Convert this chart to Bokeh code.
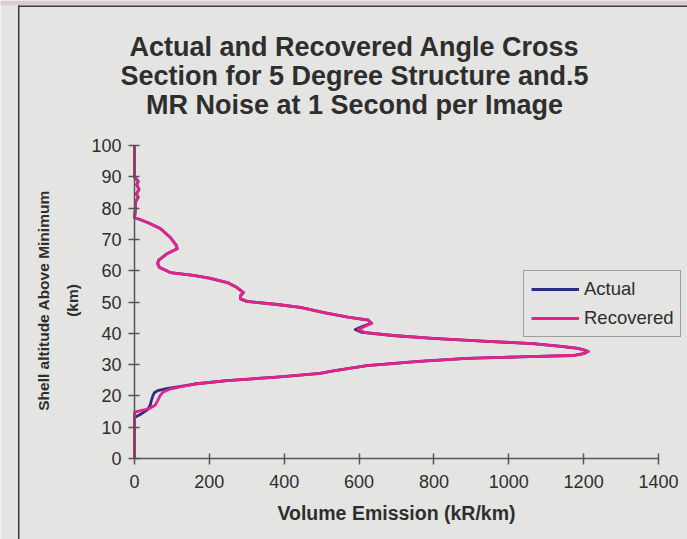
from bokeh.plotting import figure
from bokeh.models import (Range1d, FixedTicker, Legend, LegendItem, Label,
                          BoxAnnotation, LinearAxis)
from bokeh.embed import file_html
from bokeh.resources import INLINE
import math

# Vertical profiles: altitude above minimum (km) vs volume emission (kR/km)
actual_alt = [0, 13.0, 13.4, 14.4, 15.6, 17.0, 18.5, 20.0, 21.0, 21.7, 22.3, 23.0, 23.8,
              24.9, 26.0, 27.2, 28.0, 29.7, 31.0, 32.0, 32.45, 32.9, 33.5, 34.2, 34.7,
              35.2, 35.8, 36.7, 37.5, 38.4, 39.3, 40.3, 41.2, 42.2, 43.2, 44.2, 45.2,
              46.5, 47.6, 48.3, 49.2, 50.2, 51.0, 52.0, 53.0, 54.6, 56.2, 57.6, 58.5,
              59.4, 61.0, 62.2, 63.3, 65.5, 67.0, 68.0, 70.6, 73.5, 75.4, 77.0, 79.0,
              82.0, 83.5, 84.5, 86.0, 87.5, 88.5, 90.0, 100.0]
actual_emis = [0, 0, 5, 20, 35, 42, 45, 49, 53, 62, 85, 120, 160,
               247, 380, 496, 531, 621, 760, 888, 1030, 1171, 1200, 1212, 1200,
               1185, 1140, 1064, 930, 797, 690, 608, 590, 610, 632, 625, 570,
               510, 470, 443, 381, 300, 283, 283, 291, 274, 248, 200, 157,
               96, 67, 62, 64, 88, 114, 112, 96, 69, 35, 0, 2,
               3, 10, 5, 12, 6, 10, 0, 0]

recovered_alt = [0, 14.6, 15.0, 15.5, 16.1, 17.0, 18.5, 20.0, 21.2, 22.2, 23.0, 23.8,
                 24.9, 26.0, 27.2, 28.0, 29.7, 31.0, 32.0, 32.45, 32.9, 33.5, 34.2, 34.7,
                 35.2, 35.8, 36.7, 37.5, 38.4, 39.3, 40.3, 41.2, 42.2, 43.2, 44.2, 45.2,
                 46.5, 47.6, 48.3, 49.2, 50.2, 51.0, 52.0, 53.0, 54.6, 56.2, 57.6, 58.5,
                 59.4, 61.0, 62.2, 63.3, 65.5, 67.0, 68.0, 70.6, 73.5, 75.4, 77.0, 79.0,
                 82.0, 83.5, 84.5, 86.0, 87.5, 88.5, 90.0, 100.0]
recovered_emis = [0, 0, 6, 25, 42, 55, 62, 68, 76, 95, 125, 160,
                  247, 380, 496, 531, 621, 760, 888, 1030, 1171, 1200, 1212, 1200,
                  1185, 1140, 1064, 930, 797, 690, 615, 598, 615, 634, 625, 570,
                  510, 470, 443, 381, 300, 283, 283, 291, 274, 248, 200, 157,
                  96, 67, 62, 64, 88, 114, 112, 96, 69, 35, 0, 2,
                  3, 10, 5, 12, 6, 10, 0, 0]

x_ticks = [0, 200, 400, 600, 800, 1000, 1200, 1400]
y_ticks = [0, 10, 20, 30, 40, 50, 60, 70, 80, 90, 100]

title_lines = ["Actual and Recovered Angle Cross",
               "Section for 5 Degree Structure and.5",
               "MR Noise at 1 Second per Image"]
x_label = "Volume Emission (kR/km)"
y_label_lines = ["Shell altitude Above Minimum", "(km)"]

BG = "#e4e4e2"
INK = "#2e2e2e"
AXIS = "#555555"
FONT = "Liberation Sans"

W, H = 687, 539
# plot box inside the page: left/right/top/bottom pixel edges of the data area
BOX_L, BOX_R, BOX_T, BOX_B = 134, 658, 145, 458
X_MAX, Y_MAX = 1400, 100
xs = X_MAX / (BOX_R - BOX_L)
ys = Y_MAX / (BOX_B - BOX_T)

# The frame fills the whole canvas so titles, legend and page rules are not clipped;
# the axes are pinned at zero with fixed_location.
p = figure(width=W, height=H, output_backend="svg", toolbar_location=None,
           x_range=Range1d(-BOX_L * xs, X_MAX + (W - BOX_R) * xs),
           y_range=Range1d(-(H - BOX_B) * ys, Y_MAX + BOX_T * ys),
           x_axis_location=None, y_axis_location=None,
           min_border=0, min_border_left=0, min_border_right=0,
           min_border_top=0, min_border_bottom=0)
p.background_fill_color = BG
p.border_fill_color = BG
p.outline_line_color = None
p.xgrid.visible = False
p.ygrid.visible = False

xaxis = LinearAxis(fixed_location=0, bounds=(0, X_MAX), ticker=FixedTicker(ticks=x_ticks))
yaxis = LinearAxis(fixed_location=0, bounds=(0, Y_MAX), ticker=FixedTicker(ticks=y_ticks))
p.add_layout(xaxis, "below")
p.add_layout(yaxis, "left")
for ax in (xaxis, yaxis):
    ax.minor_tick_line_color = None
    ax.axis_line_color = AXIS
    ax.axis_line_width = 1.5
    ax.major_tick_line_color = AXIS
    ax.major_tick_line_width = 1.5
    ax.major_tick_in = 5
    ax.major_tick_out = 6
    ax.major_label_text_font = FONT
    ax.major_label_text_font_size = "18px"
    ax.major_label_text_color = INK
xaxis.major_label_standoff = 10
yaxis.major_label_standoff = 7

actual = p.line(actual_emis, actual_alt, line_color="#2e2c7e", line_width=2.8,
                line_join="round")
recovered = p.line(recovered_emis, recovered_alt, line_color="#e0248a", line_width=2.8,
                   line_join="round")

legend = Legend(items=[LegendItem(label="Actual", renderers=[actual]),
                       LegendItem(label="Recovered", renderers=[recovered])],
                location=(523, H - 337))
legend.label_text_font = FONT
legend.label_text_font_size = "18.5px"
legend.label_text_color = INK
legend.glyph_width = 48
legend.label_standoff = 5
legend.padding = 7
legend.spacing = 7
legend.border_line_color = "#555555"
legend.border_line_width = 1.5
legend.background_fill_color = BG
legend.background_fill_alpha = 1
p.add_layout(legend)

# Title, three centred lines
for i, line in enumerate(title_lines):
    p.add_layout(Label(x=354, y=H - 46 - 29 * i, x_units="screen", y_units="screen",
                       text=line, text_align="center", text_baseline="middle",
                       text_font=FONT, text_font_style="bold", text_font_size="27px",
                       text_color=INK))

# Axis titles
p.add_layout(Label(x=396, y=H - 512, x_units="screen", y_units="screen", text=x_label,
                   text_align="center", text_baseline="middle", text_font=FONT,
                   text_font_style="bold", text_font_size="19.5px", text_color=INK))
for lx, line in zip((43, 72), y_label_lines):
    p.add_layout(Label(x=lx, y=H - 300, x_units="screen", y_units="screen", text=line,
                       angle=math.pi / 2, text_align="center", text_baseline="middle",
                       text_font=FONT, text_font_style="bold", text_font_size="15.5px",
                       text_color=INK))

# Page rules on the left and top, with the tinted strip above the top rule
RULE = "#3a3a3a"
p.add_layout(BoxAnnotation(left=0, right=W, bottom=H - 5, top=H,
                           left_units="screen", right_units="screen",
                           bottom_units="screen", top_units="screen",
                           fill_color="#d8cfd2", fill_alpha=1, line_color=None))
p.add_layout(BoxAnnotation(left=17.5, right=19, bottom=0, top=H - 5,
                           left_units="screen", right_units="screen",
                           bottom_units="screen", top_units="screen",
                           fill_color=RULE, fill_alpha=1, line_color=None))
p.add_layout(BoxAnnotation(left=17.5, right=W, bottom=H - 6.5, top=H - 5,
                           left_units="screen", right_units="screen",
                           bottom_units="screen", top_units="screen",
                           fill_color=RULE, fill_alpha=1, line_color=None))

open("out.html", "w").write(file_html(p, INLINE))
